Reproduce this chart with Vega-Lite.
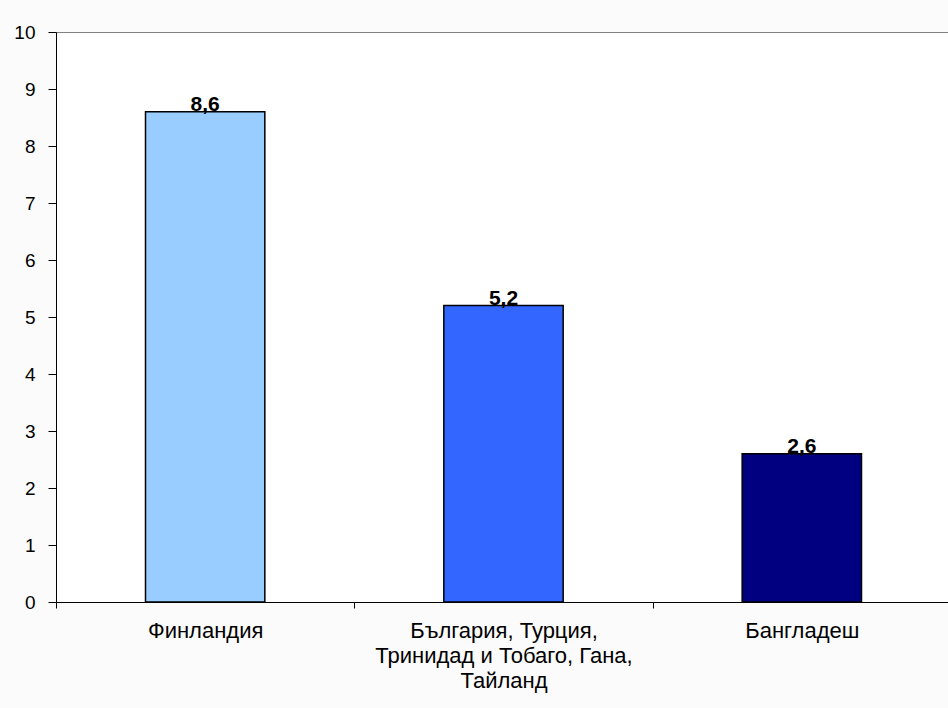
{
  "$schema": "https://vega.github.io/schema/vega-lite/v6.json",
  "width": 895,
  "height": 570,
  "autosize": {"type": "none"},
  "padding": {"left": 56, "top": 32, "right": 0, "bottom": 106},
  "background": "#fbfbfb",
  "config": {
    "view": {"fill": "white", "stroke": "#808080", "strokeWidth": 1},
    "font": "Liberation Sans",
    "locale": {"number": {"decimal": ",", "thousands": " ", "grouping": [3], "currency": ["", ""]}}
  },
  "data": {
    "values": [
      {"country": "Финландия", "value": 8.6},
      {"country": "България, Турция, Тринидад и Тобаго, Гана, Тайланд", "value": 5.2},
      {"country": "Бангладеш", "value": 2.6}
    ]
  },
  "encoding": {
    "x": {
      "field": "country",
      "type": "nominal",
      "sort": null,
      "scale": {"paddingInner": 0.6, "paddingOuter": 0.3},
      "axis": {
        "title": null,
        "labelAngle": 0,
        "labelFontSize": 22,
        "labelColor": "black",
        "labelPadding": 12,
        "labelLineHeight": 25,
        "labelLimit": 0,
        "domainColor": "black",
        "tickColor": "black",
        "tickSize": 6,
        "tickOffset": -149.2,
        "labelOffset": 149.2,
        "labelExpr": "datum.label == 'България, Турция, Тринидад и Тобаго, Гана, Тайланд' ? ['България, Турция,', 'Тринидад и Тобаго, Гана,', 'Тайланд'] : datum.label"
      }
    },
    "y": {
      "field": "value",
      "type": "quantitative",
      "scale": {"domain": [0, 10]},
      "axis": {
        "title": null,
        "grid": false,
        "values": [0, 1, 2, 3, 4, 5, 6, 7, 8, 9, 10],
        "labelFontSize": 19,
        "labelColor": "black",
        "labelPadding": 13,
        "domainColor": "black",
        "tickColor": "black",
        "tickSize": 8
      }
    }
  },
  "layer": [
    {
      "mark": {"type": "bar", "stroke": "black", "strokeWidth": 1.5},
      "encoding": {
        "color": {
          "field": "country",
          "type": "nominal",
          "sort": null,
          "scale": {"range": ["#99ccff", "#3366ff", "#000080"]},
          "legend": null
        }
      }
    },
    {
      "mark": {"type": "text", "fontWeight": "bold", "fontSize": 21, "baseline": "alphabetic", "dy": -1, "color": "black"},
      "encoding": {
        "text": {"field": "value", "type": "quantitative", "format": ".1f"}
      }
    }
  ]
}
